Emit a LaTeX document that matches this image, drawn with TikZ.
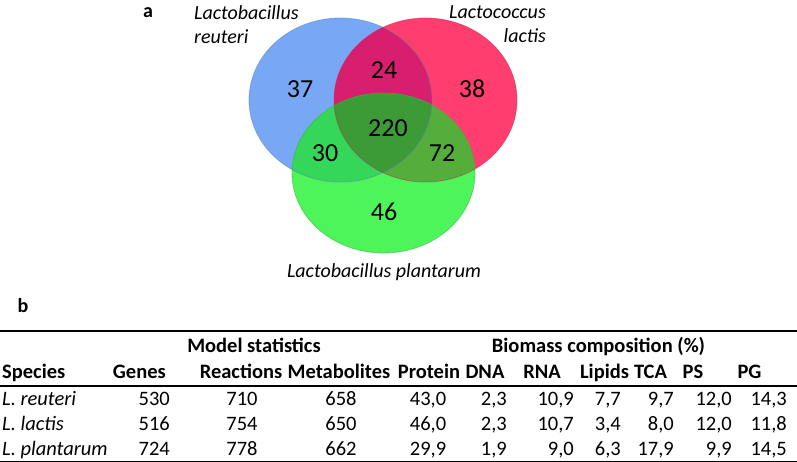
\documentclass[tikz,border=0pt]{standalone}
\usepackage{fontspec}
\setmainfont{Carlito}
\definecolor{vblue}{HTML}{78A8F5}
\definecolor{vred}{HTML}{FF3D6E}
\definecolor{vgreen}{HTML}{4DF55A}
\definecolor{vbr}{HTML}{D81E6E}
\definecolor{vbg}{HTML}{34D75A}
\definecolor{vrg}{HTML}{55AD3C}
\definecolor{vall}{HTML}{3C9A37}
\tikzset{
  every picture/.style={x=1pt, y=-1pt},
  count/.style={font=\fontsize{26}{30}\selectfont, inner sep=0pt},
  species/.style={font=\fontsize{20}{24}\selectfont\itshape, inner sep=0pt},
  panel/.style={font=\fontsize{20}{24}\selectfont\bfseries, inner sep=0pt, anchor=base},
  cell/.style={font=\fontsize{20.5}{24}\selectfont, inner sep=0pt, anchor=base},
  head/.style={cell, font=\fontsize{20.5}{24}\selectfont\bfseries},
  rule/.style={line width=1.2pt},
}
\begin{document}
\begin{tikzpicture}
  \useasboundingbox (0,0) rectangle (797,462);
  % a: Venn diagram
  \def\blueset{(340.5,100) ellipse (91.5 and 82)}
  \def\redset{(425.5,100) ellipse (91.5 and 82)}
  \def\greenset{(383.5,173) ellipse (91.5 and 80)}
  \fill[vblue] \blueset;
  \fill[vred] \redset;
  \fill[vgreen] \greenset;
  \begin{scope}
    \clip \blueset;
    \fill[vbr] \redset;
    \fill[vbg] \greenset;
  \end{scope}
  \begin{scope}
    \clip \redset;
    \fill[vrg] \greenset;
    \clip \blueset;
    \fill[vall] \greenset;
  \end{scope}
  \draw[vblue!75!black, opacity=0.5, line width=0.8pt] \blueset;
  \draw[vred!75!black, opacity=0.5, line width=0.8pt] \redset;
  \draw[vgreen!70!black, opacity=0.5, line width=0.8pt] \greenset;

  \node[panel] (pa) at (148,18) {a};
  \node[species, anchor=north west, align=left] (lreu) at (194,5) {Lactobacillus\\reuteri};
  \node[species, anchor=north east, align=right] (llac) at (546,5) {Lactococcus\\lactis};
  \node[species] (lpla) at (384,272) {Lactobacillus plantarum};

  \node[count] (n37) at (300,89) {37};
  \node[count] (n24) at (384,70) {24};
  \node[count] (n38) at (472,89) {38};
  \node[count] (n220) at (388,128) {220};
  \node[count] (n30) at (325,153) {30};
  \node[count] (n72) at (442,153) {72};
  \node[count] (n46) at (384,212) {46};

  % b: table
  \node[panel] (pb) at (23,312) {b};
  \draw[line width=1.8pt] (0,331) -- (797,331);
  \draw[rule] (0,386) -- (797,386);
  \draw[rule] (0,461.4) -- (797,461.4);

  \node[head] (hmod) at (254,352) {Model statistics};
  \node[head] (hbio) at (598.5,352) {Biomass composition (\%)};

  \node[head, anchor=base west] (hsp) at (2,378) {Species};
  \node[head, anchor=base east] (hge) at (166,378) {Genes};
  \node[head] (hre) at (241,378) {Reactions};
  \node[head] (hme) at (339,378) {Metabolites};
  \node[head] (hpr) at (429,378) {Protein};
  \node[head] (hdn) at (485,378) {DNA};
  \node[head] (hrn) at (542,378) {RNA};
  \node[head] (hli) at (604.5,378) {Lipids};
  \node[head] (htc) at (650.5,378) {TCA};
  \node[head] (hps) at (693,378) {PS};
  \node[head] (hpg) at (749.5,378) {PG};

  \foreach \sp/\ge/\re/\me/\pr/\dn/\rn/\li/\tc/\ps/\pg [count=\r] in {
    L. reuteri/530/710/658/{43,0}/{2,3}/{10,9}/{7,7}/{9,7}/{12,0}/{14,3},
    L. lactis/516/754/650/{46,0}/{2,3}/{10,7}/{3,4}/{8,0}/{12,0}/{11,8},
    L. plantarum/724/778/662/{29,9}/{1,9}/{9,0}/{6,3}/{17,9}/{9,9}/{14,5}}
  {
    \pgfmathsetmacro\yb{380+25*\r}
    \node[cell, anchor=base west] (sp\r) at (2,\yb) {\textit{\sp}};
    \node[cell, anchor=base east] (ge\r) at (170,\yb) {\ge};
    \node[cell] (re\r) at (242,\yb) {\re};
    \node[cell] (me\r) at (341,\yb) {\me};
    \node[cell] (pr\r) at (428,\yb) {\pr};
    \node[cell, anchor=base east] (dn\r) at (507,\yb) {\dn};
    \node[cell, anchor=base east] (rn\r) at (574,\yb) {\rn};
    \node[cell, anchor=base east] (li\r) at (621,\yb) {\li};
    \node[cell, anchor=base east] (tc\r) at (674,\yb) {\tc};
    \node[cell, anchor=base east] (ps\r) at (732,\yb) {\ps};
    \node[cell, anchor=base east] (pg\r) at (787,\yb) {\pg};
  }
\end{tikzpicture}
\end{document}
